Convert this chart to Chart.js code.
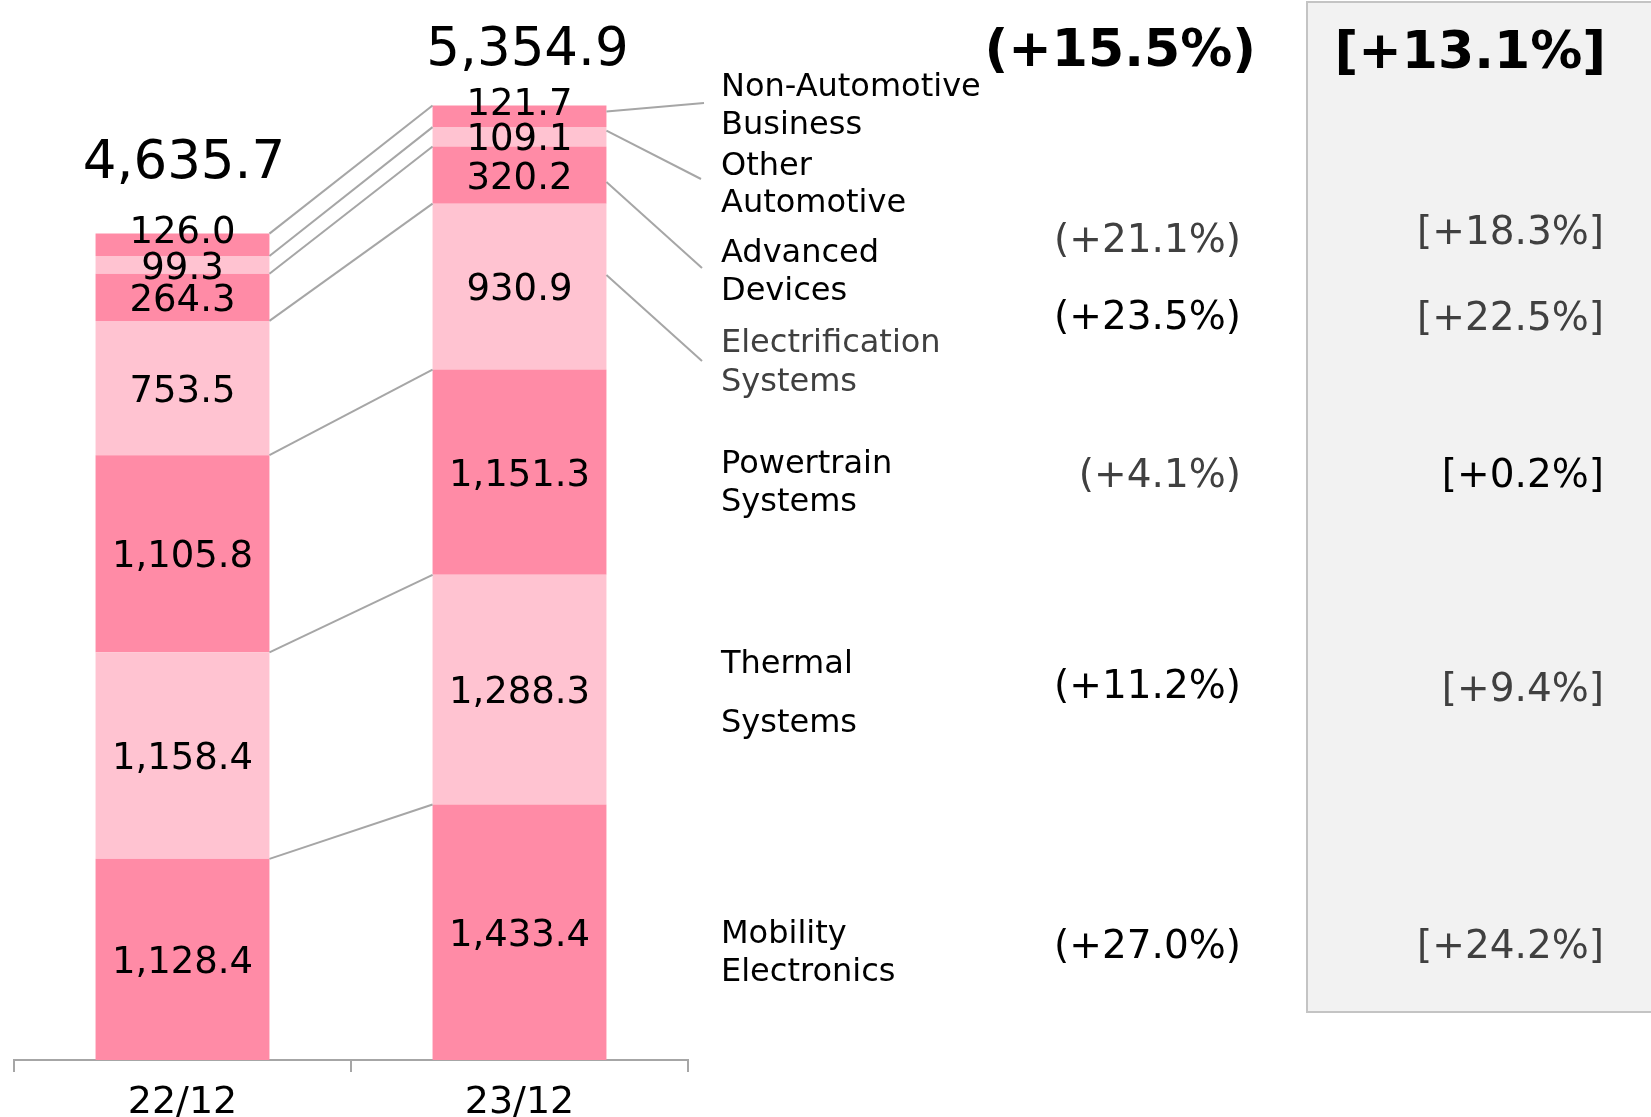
<!DOCTYPE html>
<html>
<head>
<meta charset="utf-8">
<script src="https://cdn.jsdelivr.net/npm/chart.js@4.4.1/dist/chart.umd.min.js"></script>
<style>
    body { margin: 0; background: #fff; }
    #wrap { width: 1651px; height: 1117px; }
</style>
</head>
<body>
<div id="wrap"><canvas id="salesChart" width="1651" height="1117"></canvas></div>
<script>
// ---------------- DATA ----------------
const categories = ["22/12", "23/12"];

const mobilityElectronics = [1128.4, 1433.4];
const thermalSystems = [1158.4, 1288.3];
const powertrainSystems = [1105.8, 1151.3];
const electrificationSystems = [753.5, 930.9];
const advancedDevices = [264.3, 320.2];
const otherAutomotive = [99.3, 109.1];
const nonAutomotive = [126.0, 121.7];

const totals = [4635.7, 5354.9];

const totalChange = 15.5;
const totalChangeExFx = 13.1;

// Mobility, Thermal, Powertrain, Electrification, Advanced Devices
const yoyChange = [27.0, 11.2, 4.1, 23.5, 21.1];
const yoyChangeExFx = [24.2, 9.4, 0.2, 22.5, 18.3];

const segmentLabels = [
    ["Mobility", "Electronics"],
    ["Thermal", "Systems"],
    ["Powertrain", "Systems"],
    ["Electrification", "Systems"],
    ["Advanced", "Devices"],
    ["Other", "Automotive"],
    ["Non-Automotive", "Business"]
];

const DARK = "#FF8BA6";
const LIGHT = "#FFC3D1";
const LINE = "#A6A6A6";
const GREY_TEXT = "#404040";
const FONT = "'DejaVu Sans', Verdana, sans-serif";

// ---------------- LAYOUT ----------------
const DY = 4; // canvas "middle" baseline sits a bit high for these glyphs

// label line positions (y centres) per segment
const labelLinesY = [[931, 969], [661, 720], [461, 499], [340, 379], [250, 288], [163, 200], [84, 122]];
const labelColors = ["#000", "#000", "#000", GREY_TEXT, "#000", "#000", "#000"];

const yoyY = [944, 684, 473, 315, 238];
const yoyColors = ["#000", "#000", GREY_TEXT, "#000", GREY_TEXT];
const exFxY = [944, 687, 473, 316, 230];
const exFxColors = [GREY_TEXT, GREY_TEXT, "#000", GREY_TEXT, GREY_TEXT];

// leader lines from 23/12 bar to labels: [datasetIndex, fraction in segment, endX, endY]
const leaders = [
    [6, 0.72, 704, 103],
    [5, 0.82, 701, 179],
    [4, 0.38, 702, 268],
    [3, 0.57, 702, 361]
];

const fmt = v => v.toLocaleString("en-US", { minimumFractionDigits: 1, maximumFractionDigits: 1 });
const pct = v => "+" + v.toFixed(1) + "%";

const overlay = {
    id: "overlay",
    beforeDraw(chart) {
        const ctx = chart.ctx;
        ctx.save();
        ctx.fillStyle = "#F2F2F2";
        ctx.fillRect(1307, 2, 400, 1010);
        ctx.strokeStyle = "#C4C4C4";
        ctx.lineWidth = 2;
        ctx.strokeRect(1307, 2, 400, 1010);
        ctx.restore();
    },
    afterDatasetsDraw(chart) {
        const ctx = chart.ctx;
        const n = chart.data.datasets.length;
        ctx.save();

        // connectors between the two bars
        ctx.strokeStyle = LINE;
        ctx.lineWidth = 2;
        for (let d = 0; d < n; d++) {
            const meta = chart.getDatasetMeta(d);
            const a = meta.data[0], b = meta.data[1];
            ctx.beginPath();
            ctx.moveTo(a.x + a.width / 2, a.y);
            ctx.lineTo(b.x - b.width / 2, b.y);
            ctx.stroke();
        }

        // leaders to the category labels
        leaders.forEach(([d, f, ex, ey]) => {
            const b = chart.getDatasetMeta(d).data[1];
            const y = b.base + (b.y - b.base) * f;
            ctx.beginPath();
            ctx.moveTo(b.x + b.width / 2, y);
            ctx.lineTo(ex, ey);
            ctx.stroke();
        });

        // values inside segments
        ctx.fillStyle = "#000";
        ctx.textAlign = "center";
        ctx.textBaseline = "middle";
        ctx.font = "37px " + FONT;
        for (let d = 0; d < n; d++) {
            const meta = chart.getDatasetMeta(d);
            meta.data.forEach((el, i) => {
                let y = (el.y + el.base) / 2 + DY;
                if (d === n - 1) y -= 15;
                ctx.fillText(fmt(chart.data.datasets[d].data[i]), el.x, y);
            });
        }

        // totals
        ctx.font = "53px " + FONT;
        const lastMeta = chart.getDatasetMeta(n - 1);
        const totalOffsets = [[1.5, 73], [8, 58]];
        totals.forEach((t, i) => {
            const el = lastMeta.data[i];
            ctx.fillText(fmt(t), el.x + totalOffsets[i][0], el.y - totalOffsets[i][1] + DY);
        });

        // category labels
        ctx.textAlign = "left";
        ctx.font = "32px " + FONT;
        segmentLabels.forEach((lines, i) => {
            ctx.fillStyle = labelColors[i];
            lines.forEach((t, j) => ctx.fillText(t, 721, labelLinesY[i][j] + DY));
        });

        // changes
        ctx.textAlign = "right";
        ctx.font = "bold 52px " + FONT;
        ctx.fillStyle = "#000";
        ctx.fillText("(" + pct(totalChange) + ")", 1256, 48 + DY);
        ctx.fillText("[" + pct(totalChangeExFx) + "]", 1606, 50 + DY);

        ctx.font = "39px " + FONT;
        yoyChange.forEach((v, i) => {
            ctx.fillStyle = yoyColors[i];
            ctx.fillText("(" + pct(v) + ")", 1241, yoyY[i] + DY);
        });
        yoyChangeExFx.forEach((v, i) => {
            ctx.fillStyle = exFxColors[i];
            ctx.fillText("[" + pct(v) + "]", 1604, exFxY[i] + DY);
        });

        ctx.restore();
    }
};

Chart.defaults.font.family = FONT;

new Chart(document.getElementById("salesChart"), {
    type: "bar",
    data: {
        labels: categories,
        datasets: [
            { label: "Mobility Electronics", data: mobilityElectronics, backgroundColor: DARK },
            { label: "Thermal Systems", data: thermalSystems, backgroundColor: LIGHT },
            { label: "Powertrain Systems", data: powertrainSystems, backgroundColor: DARK },
            { label: "Electrification Systems", data: electrificationSystems, backgroundColor: LIGHT },
            { label: "Advanced Devices", data: advancedDevices, backgroundColor: DARK },
            { label: "Other Automotive", data: otherAutomotive, backgroundColor: LIGHT },
            { label: "Non-Automotive Business", data: nonAutomotive, backgroundColor: DARK }
        ]
    },
    options: {
        responsive: false,
        animation: false,
        categoryPercentage: 0.516,
        barPercentage: 1,
        layout: {
            padding: { top: 25, left: 14, right: 963, bottom: 0 }
        },
        plugins: {
            legend: { display: false },
            tooltip: { enabled: false }
        },
        scales: {
            x: {
                stacked: true,
                offset: true,
                afterFit(scale) { scale.height = 57; },
                grid: {
                    display: true,
                    offset: true,
                    drawOnChartArea: false,
                    drawTicks: true,
                    tickLength: 12,
                    color: LINE,
                    lineWidth: 2
                },
                border: { display: true, color: LINE, width: 2 },
                ticks: {
                    color: "#000",
                    padding: 8,
                    font: { size: 38 }
                }
            },
            y: {
                stacked: true,
                display: false,
                min: 0,
                max: 5806
            }
        }
    },
    plugins: [overlay]
});
</script>
</body>
</html>
